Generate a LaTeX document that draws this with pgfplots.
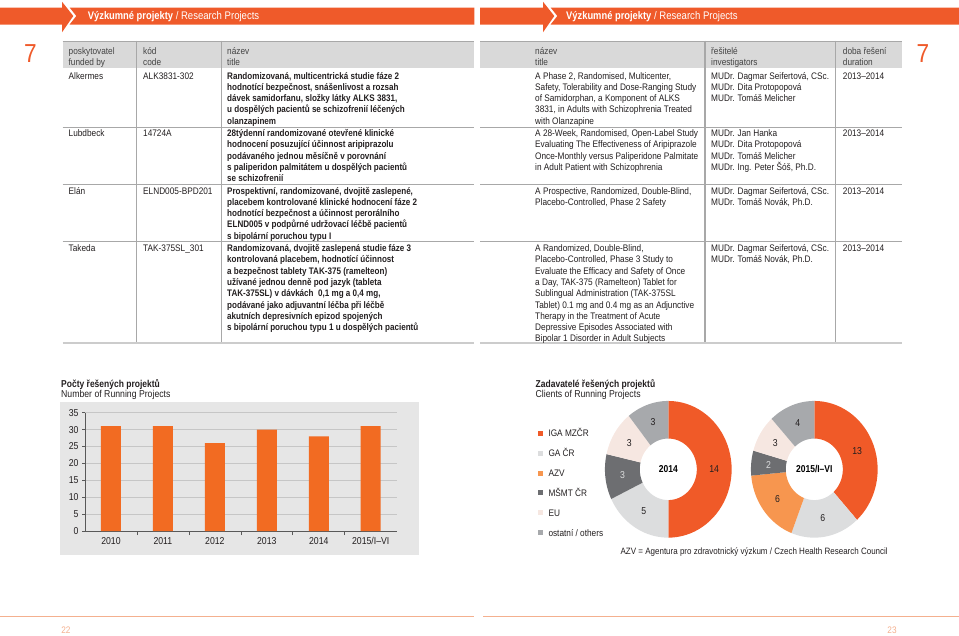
\documentclass[border=0pt]{standalone}
\usepackage{fontspec}
\setmainfont{Liberation Sans}[FakeStretch=0.87, BoldFeatures={FakeStretch=0.85}]
\usepackage{pgfplots}
\pgfplotsset{compat=1.18}
\definecolor{band}{HTML}{EF5A2A}
\definecolor{barc}{HTML}{F26B22}
\definecolor{hdr}{HTML}{D9D9D9}
\definecolor{panel}{HTML}{E6E6E6}
\definecolor{txt}{HTML}{231F20}
\definecolor{htxt}{HTML}{444444}
\definecolor{iga}{HTML}{F05A28}
\definecolor{gacr}{HTML}{DCDDDE}
\definecolor{azv}{HTML}{F7964F}
\definecolor{msmt}{HTML}{6D6E71}
\definecolor{eu}{HTML}{F6E7E1}
\definecolor{oth}{HTML}{A7A9AC}
\definecolor{foot}{HTML}{F4B08F}
\definecolor{rule}{HTML}{A8A8A8}
\newcommand\tabfont{\fontsize{9.5}{11.3}\selectfont}
\newcommand\cell[1]{\begin{tabular}[t]{@{}l@{}}#1\end{tabular}}
\def\rin{0.45}
\newcommand\seg[3]{%
  \pgfmathsetmacro\segend{\segstart-#1/\segtotal*360}%
  \pgfmathsetmacro\segmid{(\segstart+\segend)/2}%
  \pgfmathsetmacro\lx{0.725*cos(\segmid)}%
  \pgfmathsetmacro\ly{0.725*sin(\segmid)}%
  \edef\segcmd{%
    \noexpand\fill[#2] plot[domain=\segstart:\segend,samples=45,variable=\noexpand\t]
      ({cos(\noexpand\t)},{sin(\noexpand\t)}) --
      plot[domain=\segend:\segstart,samples=45,variable=\noexpand\t]
      ({\rin*cos(\noexpand\t)},{\rin*sin(\noexpand\t)}) -- cycle;
    \noexpand\node[dlbl,text=#3] at (\lx,\ly) {#1};}%
  \segcmd
  \global\let\segstart\segend}
\tikzset{dlbl/.style={font=\fontsize{10}{12}\selectfont, inner sep=0pt}}
\begin{document}
\begin{tikzpicture}
\path[use as bounding box] (0pt,0pt) rectangle (959pt,-635pt);
\begin{scope}[x=1pt,y=-1pt, every node/.style={inner sep=0pt, text=txt, font=\tabfont}]
% header bands
\fill[band] (0,7.5) -- (62,7.5) -- (62,1.7) -- (73.3,16) -- (62,32.3) -- (62,24.5) -- (0,24.5) -- cycle;
\fill[band] (69.6,7.5) -- (474.3,7.5) -- (474.3,24.5) -- (69.6,24.5) -- (76.3,16) -- cycle;
\fill[band] (480,7.5) -- (543,7.5) -- (543,1.7) -- (554.3,16) -- (543,32.3) -- (543,24.5) -- (480,24.5) -- cycle;
\fill[band] (550.6,7.5) -- (959,7.5) -- (959,24.5) -- (550.6,24.5) -- (557.3,16) -- cycle;
\node[anchor=base west, text=white, font=\fontsize{11}{13}\selectfont] at (87.7,19.9) {\textbf{Výzkumné projekty} / Research Projects};
\node[anchor=base west, text=white, font=\fontsize{11}{13}\selectfont] at (566,19.9) {\textbf{Výzkumné projekty} / Research Projects};
\node[anchor=base west, text=band, font=\fontsize{26}{30}\selectfont] at (24,62) {7};
\node[anchor=base west, text=band, font=\fontsize{26}{30}\selectfont] at (916.5,62) {7};
% table
\fill[hdr] (62.7,40.7) rectangle (474.3,68.3);
\fill[hdr] (480,40.7) rectangle (901.7,68.3);
\draw[rule, line width=0.8pt] (62.7,41) -- (474.3,41) (480,41) -- (901.7,41);
\foreach \yy in {127,184,241.5}{
  \draw[rule, line width=0.7pt] (62.7,\yy) -- (474.3,\yy) (480,\yy) -- (901.7,\yy);}
\draw[gray!40, line width=2.6pt] (62.7,343) -- (474.3,343) (480,343) -- (901.7,343);
\foreach \xx in {136.7,221.7,705,835.7}{
  \draw[rule, line width=1.1pt] (\xx,40.7) -- (\xx,341.7);}
\begin{scope}[every node/.append style={text=htxt}]
\node[anchor=base west] at (68.5,54.5) {\cell{poskytovatel\\funded by}};
\node[anchor=base west] at (143,54.5) {\cell{kód\\code}};
\node[anchor=base west] at (227,54.5) {\cell{název\\title}};
\node[anchor=base west] at (535,54.5) {\cell{název\\title}};
\node[anchor=base west] at (711,54.5) {\cell{řešitelé\\investigators}};
\node[anchor=base west] at (842.7,54.5) {\cell{doba řešení\\duration}};
\end{scope}
% row 1
\node[anchor=base west] at (68.5,79) {Alkermes};
\node[anchor=base west] at (143,79) {ALK3831-302};
\node[anchor=base west, font=\tabfont\bfseries] at (227,79) {\cell{Randomizovaná, multicentrická studie fáze 2\\hodnotící bezpečnost, snášenlivost a rozsah\\dávek samidorfanu, složky látky ALKS 3831,\\u dospělých pacientů se schizofrenií léčených\\olanzapinem}};
\node[anchor=base west] at (535,79) {\cell{A Phase 2, Randomised, Multicenter,\\Safety, Tolerability and Dose-Ranging Study\\of Samidorphan, a Komponent of ALKS\\3831, in Adults with Schizophrenia Treated\\with Olanzapine}};
\node[anchor=base west] at (711,79) {\cell{MUDr. Dagmar Seifertová, CSc.\\MUDr. Dita Protopopová\\MUDr. Tomáš Melicher}};
\node[anchor=base west] at (842.7,79) {2013–2014};
% row 2
\node[anchor=base west] at (68.5,136.5) {Lubdbeck};
\node[anchor=base west] at (143,136.5) {14724A};
\node[anchor=base west, font=\tabfont\bfseries] at (227,136.5) {\cell{28týdenní randomizované otevřené klinické\\hodnocení posuzující účinnost aripiprazolu\\podávaného jednou měsíčně v porovnání\\s paliperidon palmitátem u dospělých pacientů\\se schizofrenií}};
\node[anchor=base west] at (535,136.5) {\cell{A 28-Week, Randomised, Open-Label Study\\Evaluating The Effectiveness of Aripiprazole\\Once-Monthly versus Paliperidone Palmitate\\in Adult Patient with Schizophrenia}};
\node[anchor=base west] at (711,136.5) {\cell{MUDr. Jan Hanka\\MUDr. Dita Protopopová\\MUDr. Tomáš Melicher\\MUDr. Ing. Peter Šóš, Ph.D.}};
\node[anchor=base west] at (842.7,136.5) {2013–2014};
% row 3
\node[anchor=base west] at (68.5,194) {Elán};
\node[anchor=base west] at (143,194) {ELND005-BPD201};
\node[anchor=base west, font=\tabfont\bfseries] at (227,194) {\cell{Prospektivní, randomizované, dvojitě zaslepené,\\placebem kontrolované klinické hodnocení fáze 2\\hodnotící bezpečnost a účinnost perorálního\\ELND005 v podpůrné udržovací léčbě pacientů\\s bipolární poruchou typu I}};
\node[anchor=base west] at (535,194) {\cell{A Prospective, Randomized, Double-Blind,\\Placebo-Controlled, Phase 2 Safety}};
\node[anchor=base west] at (711,194) {\cell{MUDr. Dagmar Seifertová, CSc.\\MUDr. Tomáš Novák, Ph.D.}};
\node[anchor=base west] at (842.7,194) {2013–2014};
% row 4
\node[anchor=base west] at (68.5,251.5) {Takeda};
\node[anchor=base west] at (143,251.5) {TAK-375SL\_301};
\node[anchor=base west, font=\tabfont\bfseries] at (227,251.5) {\cell{Randomizovaná, dvojitě zaslepená studie fáze 3\\kontrolovaná placebem, hodnotící účinnost\\a bezpečnost tablety TAK-375 (ramelteon)\\užívané jednou denně pod jazyk (tableta\\TAK-375SL) v dávkách \ 0,1 mg a 0,4 mg,\\podávané jako adjuvantní léčba při léčbě\\akutních depresivních epizod spojených\\s bipolární poruchou typu 1 u dospělých pacientů}};
\node[anchor=base west] at (535,251.5) {\cell{A Randomized, Double-Blind,\\Placebo-Controlled, Phase 3 Study to\\Evaluate the Efficacy and Safety of Once\\a Day, TAK-375 (Ramelteon) Tablet for\\Sublingual Administration (TAK-375SL\\Tablet) 0.1 mg and 0.4 mg as an Adjunctive\\Therapy in the Treatment of Acute\\Depressive Episodes Associated with\\Bipolar 1 Disorder in Adult Subjects}};
\node[anchor=base west] at (711,251.5) {\cell{MUDr. Dagmar Seifertová, CSc.\\MUDr. Tomáš Novák, Ph.D.}};
\node[anchor=base west] at (842.7,251.5) {2013–2014};
% bar chart panel and titles
\fill[panel] (60,401.7) rectangle (419.3,555);
\node[anchor=base west, font=\fontsize{10}{12}\selectfont\bfseries] at (61,387) {Počty řešených projektů};
\node[anchor=base west, font=\fontsize{10}{12}\selectfont] at (61,397.8) {Number of Running Projects};
% donut titles and legend
\node[anchor=base west, font=\fontsize{10}{12}\selectfont\bfseries] at (535.5,387) {Zadavatelé řešených projektů};
\node[anchor=base west, font=\fontsize{10}{12}\selectfont] at (535.5,397.8) {Clients of Running Projects};
\foreach \c/\l [count=\i from 0] in {iga/{IGA MZČR}, gacr/{GA ČR}, azv/{AZV}, msmt/{MŠMT ČR}, eu/{EU}, oth/{ostatní / others}}{
  \pgfmathsetmacro\yc{433.3+19.85*\i}
  \fill[\c] (538.3,\yc-2.5) rectangle (543.3,\yc+2.5);
  \node[anchor=base west, font=\fontsize{9.5}{11}\selectfont] at (548.3,\yc+3.5) {\l};
}
\node[anchor=base, font=\fontsize{9.2}{11}\selectfont] at (754.2,554) {AZV = Agentura pro zdravotnický výzkum / Czech Health Research Council};
% footer
\draw[foot, line width=0.9pt] (0,616.5) -- (474,616.5) (483,616.5) -- (959,616.5);
\node[anchor=base, text=foot, font=\fontsize{9.5}{11}\selectfont] at (66,633.5) {22};
\node[anchor=base, text=foot, font=\fontsize{9.5}{11}\selectfont] at (892,633.5) {23};
\end{scope}

% bar chart
\begin{axis}[at={(85pt,-531pt)}, anchor=south west, scale only axis,
  width=311.7pt, height=118.3pt,
  xmin=-0.5, xmax=5.5, ymin=0, ymax=35,
  ytick={0,5,...,35},
  xtick={0,...,5},
  xticklabels={2010,2011,2012,2013,2014,2015/I–VI},
  minor xtick={0.5,1.5,...,4.5},
  axis x line*=bottom, axis y line*=left,
  axis line style={-, draw=black!65, line width=0.7pt},
  tick align=outside,
  major tick length=3pt, minor tick length=4pt,
  major x tick style={draw=none},
  minor x tick style={draw=black!65, line width=0.6pt},
  major y tick style={draw=black!65, line width=0.6pt},
  ymajorgrids, grid style={draw=gray!45, line width=0.6pt},
  ticklabel style={font=\fontsize{10}{12}\selectfont, text=txt},
  /pgf/number format/assume math mode=true,
]
\addplot[ybar, bar width=20pt, fill=barc, draw=none] coordinates {(0,31) (1,31) (2,26) (3,30) (4,28) (5,31)};
\end{axis}

% donut 2014
\begin{axis}[at={(668.3pt,-469.3pt)}, anchor=center, scale only axis,
  width=126.7pt, height=136.7pt, xmin=-1, xmax=1, ymin=-1, ymax=1,
  hide axis, clip=false]
\def\segtotal{28}\gdef\segstart{90}
\seg{14}{iga}{txt}
\seg{5}{gacr}{txt}
\seg{3}{msmt}{gacr}
\seg{3}{eu}{txt}
\seg{3}{oth}{txt}
\node[font=\fontsize{10}{12}\selectfont\bfseries, text=black] at (0,0) {2014};
\end{axis}

% donut 2015/I-VI
\begin{axis}[at={(814.3pt,-469.3pt)}, anchor=center, scale only axis,
  width=126.7pt, height=136.7pt, xmin=-1, xmax=1, ymin=-1, ymax=1,
  hide axis, clip=false]
\def\segtotal{34}\gdef\segstart{90}
\seg{13}{iga}{txt}
\seg{6}{gacr}{txt}
\seg{6}{azv}{txt}
\seg{2}{msmt}{gacr}
\seg{3}{eu}{txt}
\seg{4}{oth}{txt}
\node[font=\fontsize{10}{12}\selectfont\bfseries, text=black] at (0,0) {2015/I–VI};
\end{axis}
\end{tikzpicture}
\end{document}
